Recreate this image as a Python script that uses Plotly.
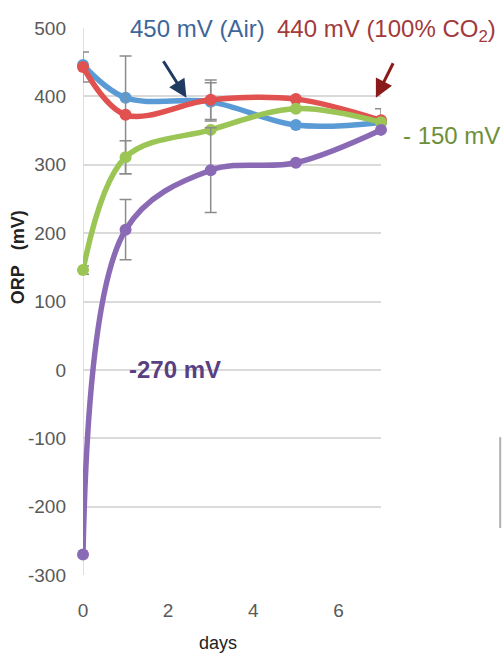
import plotly.graph_objects as go

# Sampling days
days = [0, 1, 3, 5, 7]

# ORP readings (mV) for each starting condition
orp_air = [446, 398, 392, 358, 362]
orp_co2 = [443, 373, 395, 396, 365]
orp_150 = [146, 311, 351, 382, 362]
orp_270 = [-270, 205, 292, 303, 351]

# Error bar half-widths (mV)
err_air = [0, 0, 28, 0, 0]
err_co2 = [22, 86, 29, 0, 17]
err_150 = [6, 24, 0, 0, 0]
err_270 = [0, 44, 62, 0, 0]

y_ticks = [-300, -200, -100, 0, 100, 200, 300, 400, 500]
y_labels = [str(v) for v in y_ticks]
x_ticks = [0, 2, 4, 6]

FONT = "Liberation Sans, Arial, sans-serif"

series = [
    (orp_air, err_air, "#5B9BD5"),
    (orp_co2, err_co2, "#E0514F"),
    (orp_150, err_150, "#9BC554"),
    (orp_270, err_270, "#8A6AB5"),
]

fig = go.Figure()
for vals, errs, color in series:
    fig.add_trace(go.Scatter(
        x=days, y=vals,
        mode="lines+markers",
        line=dict(color=color, width=5.5, shape="spline", smoothing=1.0),
        marker=dict(color=color, size=12),
        error_y=dict(type="data", array=errs, visible=True,
                     color="#8C8C8C", thickness=1.5, width=6),
        cliponaxis=False,
        showlegend=False,
    ))

fig.update_xaxes(
    range=[0, 7], tickvals=x_ticks, showgrid=False,
    showline=False, zeroline=False, ticks="",
    ticklabelstandoff=22,
    tickfont=dict(family=FONT, size=19, color="#595959"),
)
fig.update_yaxes(
    range=[-300, 500], tickvals=y_ticks, ticktext=y_labels,
    showgrid=True, gridcolor="#DADADA", gridwidth=1.5,
    zeroline=False, showline=False, ticks="",
    ticklabelstandoff=16,
    tickfont=dict(family=FONT, size=19, color="#595959"),
)

# vertical axis line at day 0
fig.add_shape(type="line", xref="x", yref="y", x0=0, x1=0, y0=-300, y1=500,
              line=dict(color="#D4D4D4", width=1.5), layer="below")

# condition labels
labels = [
    ("450 mV (Air)", 0.383, 1.0, "#3E6699"),
    ("440 mV (100% CO<sub>2</sub>)", 1.02, 0.995, "#A23A3C"),
    ("- 150 mV", 1.238, 0.803, "#6E8F3A"),
]
for text, px, py, color in labels:
    fig.add_annotation(text=text, xref="paper", yref="paper", x=px, y=py,
                       xanchor="center", yanchor="middle", showarrow=False,
                       font=dict(family=FONT, size=24, color=color))

fig.add_annotation(text="<b>-270 mV</b>", xref="x", yref="y", x=2.15, y=0,
                   xanchor="center", yanchor="middle",
                   showarrow=False, font=dict(family=FONT, size=24, color="#5A3F82"))

# arrows pointing at the curves
fig.add_annotation(x=2.43, y=398, xref="x", yref="y", ax=-24, ay=-38, text="",
                   showarrow=True, arrowhead=2, arrowsize=1.2, arrowwidth=3,
                   arrowcolor="#1F3B60")
fig.add_annotation(x=6.88, y=398, xref="x", yref="y", ax=18, ay=-36, text="",
                   showarrow=True, arrowhead=2, arrowsize=1.2, arrowwidth=3,
                   arrowcolor="#8B1A1A")

# axis titles
fig.add_annotation(text="<b>ORP&nbsp;&nbsp;&nbsp;(mV)</b>", xref="paper", yref="paper",
                   x=-0.218, y=0.581, textangle=-90, showarrow=False,
                   xanchor="center", yanchor="middle",
                   font=dict(family=FONT, size=18, color="#222222"))
fig.add_annotation(text="days", xref="x", yref="paper",
                   x=3.16, y=-0.124, showarrow=False,
                   xanchor="center", yanchor="middle",
                   font=dict(family=FONT, size=18, color="#222222"))

# frame fragment at right edge
fig.add_shape(type="line", xref="paper", yref="paper", x0=1.40, x1=1.40,
              y0=0.086, y1=0.252, line=dict(color="#B0B0B0", width=2))

fig.update_layout(
    width=502, height=656,
    margin=dict(l=83, r=121, t=28, b=81),
    paper_bgcolor="white", plot_bgcolor="white",
)

fig.write_html("out.html")
